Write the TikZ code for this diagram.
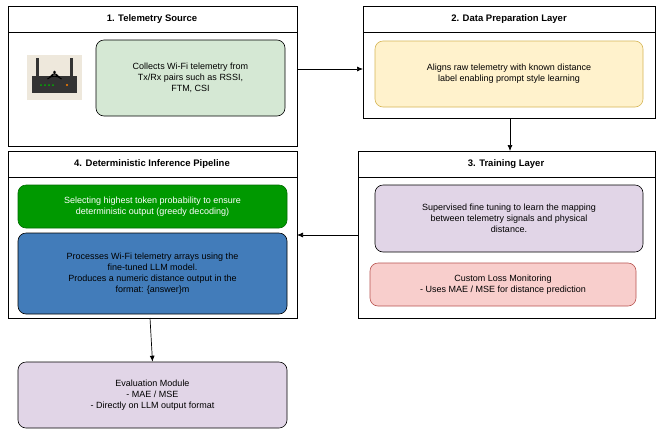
\documentclass[tikz,border=0pt]{standalone}
\usepackage{fontspec}
\setmainfont{Liberation Sans}
\usetikzlibrary{arrows.meta}
\begin{document}
\begin{tikzpicture}[x=1pt,y=-1pt,
panel/.style={draw,fill=white,line width=0.8pt},
hdr/.style={font=\bfseries\fontsize{9.5}{11}\selectfont},
rbox/.style={draw,rounded corners=8pt,align=center,font=\fontsize{9}{11}\selectfont,line width=0.6pt},
arr/.style={-{Latex[length=6pt,width=5pt]},line width=0.7pt}]
\useasboundingbox (0,0) rectangle (666,437);
% panels
\draw[panel] (8,6) rectangle (297,146); \draw (8,32)--(297,32);
\node[hdr] (h1) at (152,19) {1. Telemetry Source};
\draw[panel] (363,6) rectangle (655,118); \draw (363,32)--(655,32);
\node[hdr] (h2) at (509,19) {2. Data Preparation Layer};
\draw[panel] (358,151) rectangle (655,318); \draw (358,177)--(655,177);
\node[hdr] (h3) at (506,164) {3. Training Layer};
\draw[panel] (8,151) rectangle (297,318); \draw (8,177)--(297,177);
\node[hdr] (h4) at (152,164) {4. Deterministic Inference Pipeline};
\coordinate (p1r) at (297,69); \coordinate (p2l) at (363,69);
\coordinate (p2b) at (510,118); \coordinate (p3t) at (510,151);
\coordinate (p3l) at (358,235); \coordinate (p4r) at (297,235);
\coordinate (p4b) at (150,318);
% router icon
\fill[fill={rgb,255:red,238;green,232;blue,220}] (27,55) rectangle (82,100);
\fill[black!80] (32,76) rectangle (77,93);
\fill[black!80] (36,58) rectangle (39,77); \fill[black!80] (70,58) rectangle (73,77);
\foreach \i in {0,1,2,3} \fill[green!70!black] (41+\i*4,85) circle (1pt);
\fill[orange] (67,85) circle (1.2pt);
\fill (54.5,72) circle (1.5pt);
\foreach \r in {4,7,10} \draw[line width=1pt] ([shift={(45:\r)}]54.5,72) arc[start angle=-45,end angle=-135,radius=\r];
% boxes
\node[rbox,fill={rgb,255:red,213;green,232;blue,212},minimum width=189pt,minimum height=76pt] (b1) at (190.5,78) {Collects Wi-Fi telemetry from\\Tx/Rx pairs such as RSSI,\\FTM, CSI};
\node[rbox,fill={rgb,255:red,255;green,242;blue,204},draw={rgb,255:red,214;green,182;blue,86},minimum width=268pt,minimum height=66pt] (b2) at (509,74) {Aligns raw telemetry with known distance\\label enabling prompt style learning};
\node[rbox,fill={rgb,255:red,225;green,213;blue,231},minimum width=268pt,minimum height=67pt] (b3) at (509,218.5) {Supervised fine tuning to learn the mapping\\between telemetry signals and physical\\distance.};
\node[rbox,fill={rgb,255:red,248;green,206;blue,204},draw={rgb,255:red,184;green,84;blue,80},minimum width=266pt,minimum height=43pt] (b4) at (503,284.5) {Custom Loss Monitoring\\- Uses MAE / MSE for distance prediction};
\node[rbox,fill={rgb,255:red,0;green,153;blue,0},draw={rgb,255:red,0;green,110;blue,0},text=white,minimum width=269pt,minimum height=43pt] (b5) at (152.5,206.5) {Selecting highest token probability to ensure\\deterministic output (greedy decoding)};
\node[rbox,fill={rgb,255:red,66;green,124;blue,186},minimum width=269pt,minimum height=81pt] (b6) at (152.5,273.5) {Processes Wi-Fi telemetry arrays using the\\fine-tuned LLM model.\\Produces a numeric distance output in the\\format: \{answer\}m};
\node[rbox,fill={rgb,255:red,225;green,213;blue,231},minimum width=269pt,minimum height=66pt] (b7) at (152.5,395) {Evaluation Module\\- MAE / MSE\\- Directly on LLM output format};
\draw[arr] (p1r)--(p2l);
\draw[arr] (p2b)--(p3t);
\draw[arr] (p3l)--(p4r);
\draw[arr] (p4b)--(b7.north);
\end{tikzpicture}
\end{document}
